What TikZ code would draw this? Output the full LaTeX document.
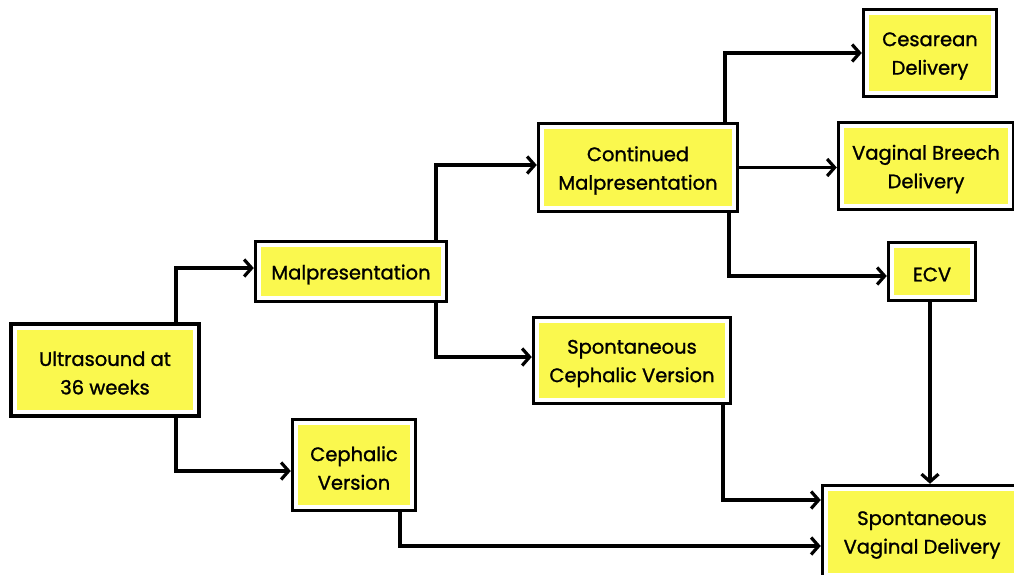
\documentclass[tikz,border=0pt]{standalone}
\usepackage{fontspec}
\setmainfont{Poppins}
\newfontfamily\boxfont{Poppins}[FakeBold=1.2]
\usetikzlibrary{arrows.meta}
\definecolor{boxyellow}{RGB}{250,248,78}
\tikzset{
  stage/.style={draw=black, line width=3.5pt, fill=white, inner sep=0pt,
    path picture={\fill[boxyellow]
      ([shift={(5.8pt,-5.8pt)}]path picture bounding box.north west) rectangle
      ([shift={(-5.8pt,5.8pt)}]path picture bounding box.south east);}},
  caption/.style={align=center, yshift=-3pt, inner sep=0pt,
    font=\boxfont\fontsize{19.5}{28.5}\selectfont},
  conn/.style={draw=black, line width=3.2pt, -{Straight Barb[length=7.5pt,width=17pt,line width=3.2pt]}},
}
\begin{document}
\begin{tikzpicture}[x=1pt,y=-1pt]
\useasboundingbox (0,0) rectangle (1014,574);
\begin{scope}
\clip (0,0) rectangle (1014,574);
\node[stage, minimum width=188pt, minimum height=92pt,
  label={[caption, name=us-t]center:Ultrasound at\\36 weeks}] (us) at (105,370) {};
\node[stage, minimum width=191pt, minimum height=60pt,
  label={[caption, name=mal-t]center:Malpresentation}] (mal) at (351,271.5) {};
\node[stage, minimum width=123pt, minimum height=91pt,
  label={[caption, name=cv-t]center:Cephalic\\Version}] (cv) at (354,465) {};
\node[stage, minimum width=199pt, minimum height=88pt,
  label={[caption, name=cm-t]center:Continued\\Malpresentation}] (cm) at (638,167.5) {};
\node[stage, minimum width=197pt, minimum height=86pt,
  label={[caption, name=scv-t]center:Spontaneous\\Cephalic Version}] (scv) at (632,360.5) {};
\node[stage, minimum width=133pt, minimum height=87pt,
  label={[caption, name=ces-t]center:Cesarean\\Delivery}] (ces) at (930,53) {};
\node[stage, minimum width=175pt, minimum height=87pt,
  label={[caption, name=vbd-t]center:Vaginal Breech\\Delivery}] (vbd) at (926,166) {};
\node[stage, minimum width=87pt, minimum height=58pt,
  label={[caption, name=ecv-t]center:ECV}] (ecv) at (932,271.5) {};
\node[stage, minimum width=199pt, minimum height=93pt,
  label={[caption, name=svd-t]center:Spontaneous\\Vaginal Delivery}] (svd) at (922,532) {};

\draw[conn] ([xshift=71pt]us.north) |- ([yshift=3.5pt]mal.west);
\draw[conn] ([xshift=71pt]us.south) |- ([yshift=-6pt]cv.west);
\draw[conn] ([xshift=85pt]mal.north) |- ([yshift=2.5pt]cm.west);
\draw[conn] ([xshift=85pt]mal.south) |- ([yshift=3.5pt]scv.west);
\draw[conn] ([xshift=87pt]cm.north) |- (ces.west);
\draw[conn] (cm.east) -- (cm.east -| vbd.west);
\draw[conn] ([xshift=91pt]cm.south) |- ([yshift=-4.5pt]ecv.west);
\draw[conn] ([xshift=-2pt]ecv.south) -- ([xshift=-2pt]ecv.south |- svd.north);
\draw[conn] ([xshift=91pt]scv.south) |- ([yshift=32pt]svd.west);
\draw[conn] ([xshift=46pt]cv.south) |- ([yshift=-14pt]svd.west);
\end{scope}
\end{tikzpicture}
\end{document}
